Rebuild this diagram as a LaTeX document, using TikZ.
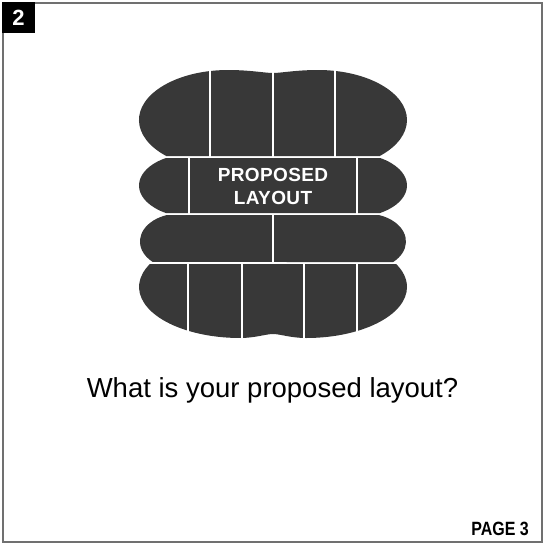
\documentclass[tikz,border=0pt]{standalone}
\usepackage{fontspec}
\usepackage{tikz}
\usepackage{xcolor}
\setmainfont{Liberation Sans}
\definecolor{seatgray}{RGB}{56,56,56}
\definecolor{framegray}{RGB}{112,112,112}
\tikzset{
    seat_row/.style={fill=seatgray},
    gap_line/.style={draw=white, line width=1.3pt},
    frame_line/.style={draw=framegray, line width=1.3pt},
    badge_box/.style={fill=black, text=white, minimum width=33pt, minimum height=31pt, inner sep=0pt, font=\fontsize{22}{24}\selectfont\bfseries},
    layout_label/.style={text=white, align=center, inner sep=0pt, font=\fontsize{19}{22.3}\selectfont\bfseries\addfontfeature{LetterSpace=2}},
    question_text/.style={inner sep=0pt, font=\fontsize{27.5}{30}\selectfont},
    page_text/.style={inner sep=0pt, font=\fontsize{16}{18}\selectfont\bfseries}
}

\begin{document}
\begin{tikzpicture}[x=1pt, y=1pt]
\useasboundingbox (0,0) rectangle (546,-544);

\draw[frame_line] (3,-3) rectangle (542,-542);
\node[badge_box] (badge) at (18.5,-17.5) {2};

\fill[seat_row] (166.2,-156) arc[start angle=226.05, end angle=90, x radius=89, y radius=50]
    .. controls (250,-70) and (265,-73) .. (273,-73)
    .. controls (281,-73) and (296,-70) .. (318,-70)
    arc[start angle=90, end angle=-46.05, x radius=89, y radius=50] -- cycle;

\fill[seat_row] (165.9,-158) arc[start angle=120.75, end angle=239.25, x radius=55, y radius=32]
    -- (380.1,-213)
    arc[start angle=-59.25, end angle=59.25, x radius=55, y radius=32] -- cycle;

\fill[seat_row] (167,-215) arc[start angle=108.9, end angle=227.06, x radius=40, y radius=28]
    -- (393.2,-262)
    arc[start angle=-47.06, end angle=71.1, x radius=40, y radius=28] -- cycle;

\fill[seat_row] (149.9,-264) arc[start angle=153.2, end angle=270, x radius=101, y radius=51]
    .. controls (255,-338) and (266,-334) .. (273,-334)
    .. controls (280,-334) and (291,-338) .. (306,-338)
    arc[start angle=270, end angle=386.8, x radius=101, y radius=51] -- cycle;

\foreach \x in {210,273,335} {
    \draw[gap_line] (\x,-66) -- (\x,-157);
}
\foreach \x in {189,357} {
    \draw[gap_line] (\x,-157) -- (\x,-214);
}
\draw[gap_line] (273,-214) -- (273,-263);
\foreach \x in {188,242,304,357} {
    \draw[gap_line] (\x,-263) -- (\x,-342);
}

\node[layout_label] (proposed) at (273,-186.5) {PROPOSED\\LAYOUT};

\node[question_text, anchor=base] (question) at (272.5,-397) {What is your proposed layout?};
\node[page_text, anchor=base east] (page) at (529,-535) {\scalebox{1}[1.2]{PAGE 3}};

\end{tikzpicture}
\end{document}
